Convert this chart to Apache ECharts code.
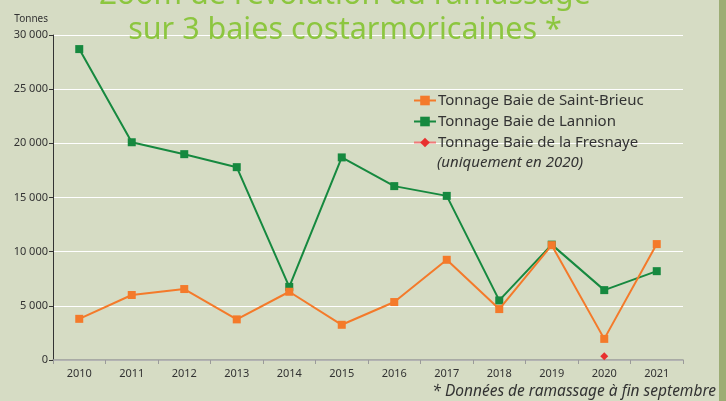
<!DOCTYPE html>
<html>
<head>
<meta charset="utf-8">
<script src="https://cdn.jsdelivr.net/npm/echarts@6/dist/echarts.min.js"></script>
<style>
  html, body { margin: 0; padding: 0; background: #d6dcc4; }
  #chart { width: 726px; height: 401px; }
</style>
</head>
<body>
<div id="chart"></div>
<script>
const years = ['2010', '2011', '2012', '2013', '2014', '2015', '2016', '2017', '2018', '2019', '2020', '2021'];
const saintBrieuc = [3800, 6000, 6550, 3750, 6300, 3250, 5350, 9250, 4700, 10600, 1950, 10700];
const lannion = [28700, 20100, 19000, 17800, 6750, 18700, 16050, 15150, 5500, 10650, 6450, 8200];
const fresnaye = [null, null, null, null, null, null, null, null, null, null, 350, null];

const chart = echarts.init(document.getElementById('chart'));
const fontFamily = '"Noto Sans", "Open Sans", sans-serif';

// thousands with a space, as in the original
const fmt = v => v === 0 ? '0' : String(v).replace(/\B(?=(\d{3})+(?!\d))/g, ' ');

chart.setOption({
  backgroundColor: '#d6dcc4',
  animation: false,
  textStyle: { fontFamily },
  title: {
    text: "Zoom de l'évolution du ramassage\nsur 3 baies costarmoricaines *",
    left: 340,
    top: -27,
    textAlign: 'center',
    textStyle: { color: '#8cc63f', fontSize: 30.5, fontWeight: 'normal', lineHeight: 35, fontFamily }
  },
  grid: { left: 53, right: 43, top: 35, bottom: 41 },
  legend: {
    orient: 'vertical',
    left: 413,
    top: 93,
    padding: 0,
    itemWidth: 22,
    itemHeight: 12,
    itemGap: 6,
    textStyle: { color: '#333', fontSize: 15, padding: [0, 0, 0, -3] },
    data: ['Tonnage Baie de Saint-Brieuc', 'Tonnage Baie de Lannion', 'Tonnage Baie de la Fresnaye']
  },
  xAxis: {
    type: 'category',
    data: years,
    boundaryGap: true,
    axisLine: { lineStyle: { color: '#9a9a9a', width: 1.5 } },
    axisTick: { show: true, length: 4, lineStyle: { color: '#9a9a9a' } },
    axisLabel: { color: '#333', fontSize: 11, margin: 8 },
    splitLine: { show: false }
  },
  yAxis: {
    type: 'value',
    min: 0,
    max: 30000,
    interval: 5000,
    name: 'Tonnes',
    nameLocation: 'end',
    nameGap: 11,
    nameTextStyle: { color: '#333', fontSize: 10, align: 'right', padding: [0, 5, 0, 0] },
    axisLine: { show: true, lineStyle: { color: '#333', width: 1 } },
    axisTick: { show: true, inside: false, length: 4, lineStyle: { color: '#333' } },
    axisLabel: { color: '#333', fontSize: 11, margin: 5, formatter: fmt },
    splitLine: { lineStyle: { color: '#ffffff', width: 1 } }
  },
  graphic: [
    {
      type: 'rect',
      right: 0,
      top: 0,
      shape: { width: 7, height: 401 },
      style: { fill: '#9cad74' }
    },
    {
      type: 'text',
      left: 437,
      top: 155,
      style: { text: '(uniquement en 2020)', fill: '#333', font: 'italic 15px "Noto Sans", sans-serif' }
    },
    {
      type: 'text',
      right: 10,
      top: 384,
      style: { text: '* Données de ramassage à fin septembre', fill: '#333', font: 'italic 15.5px "Noto Sans", sans-serif' }
    }
  ],
  series: [
    {
      name: 'Tonnage Baie de Saint-Brieuc',
      type: 'line',
      data: saintBrieuc,
      symbol: 'rect',
      symbolSize: 8,
      lineStyle: { color: '#f47a2a', width: 2 },
      itemStyle: { color: '#f47a2a' },
      z: 3
    },
    {
      name: 'Tonnage Baie de Lannion',
      type: 'line',
      data: lannion,
      symbol: 'rect',
      symbolSize: 8,
      lineStyle: { color: '#16893f', width: 2 },
      itemStyle: { color: '#16893f' },
      z: 2
    },
    {
      name: 'Tonnage Baie de la Fresnaye',
      type: 'line',
      data: fresnaye,
      symbol: 'diamond',
      symbolSize: 8,
      lineStyle: { color: '#ef7a78', width: 2 },
      itemStyle: { color: '#e8302f' },
      z: 4
    }
  ]
});
</script>
</body>
</html>
